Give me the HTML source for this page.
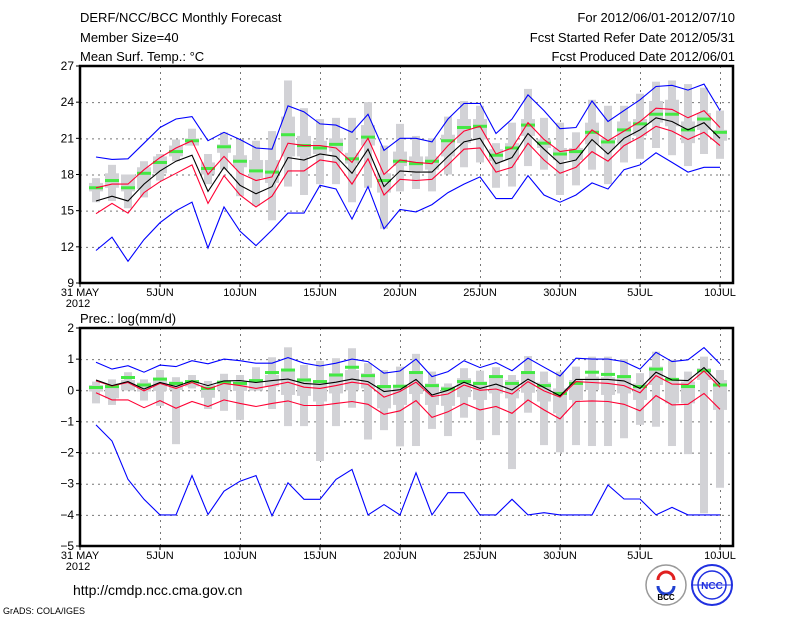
<!DOCTYPE html>
<html><head><meta charset="utf-8"><style>
html,body{margin:0;padding:0;background:#fff;}
svg{display:block;font-family:"Liberation Sans",sans-serif;}
</style></head><body>
<svg id="chart" width="800" height="618" viewBox="0 0 800 618">
<g font-size="13" fill="#000">
<text x="80" y="22">DERF/NCC/BCC Monthly Forecast</text>
<text x="80" y="42">Member Size=40</text>
<text x="80" y="61">Mean Surf. Temp.: °C</text>
<text x="735" y="22" text-anchor="end">For 2012/06/01-2012/07/10</text>
<text x="735" y="42" text-anchor="end">Fcst Started Refer Date 2012/05/31</text>
<text x="735" y="61" text-anchor="end">Fcst Produced Date 2012/06/01</text>
<text x="80" y="323">Prec.: log(mm/d)</text>
</g>
<text x="73" y="595" font-size="14">http://cmdp.ncc.cma.gov.cn</text>
<text x="3" y="614" font-size="9">GrADS: COLA/IGES</text>
<g>
<circle cx="666" cy="585" r="20" fill="#fff" stroke="#999" stroke-width="1.5"/>
<path d="M658 580 a8 8 0 1 1 16 0" fill="none" stroke="#e02020" stroke-width="3"/>
<path d="M674 586 a8 8 0 1 1 -16 0" fill="none" stroke="#2040d0" stroke-width="3"/>
<text x="666" y="600" font-size="8" text-anchor="middle" font-weight="bold">BCC</text>
</g>
<g>
<circle cx="712" cy="585" r="20" fill="#fff" stroke="#2030e0" stroke-width="2"/>
<circle cx="712" cy="585" r="14" fill="none" stroke="#2030e0" stroke-width="1.5"/>
<line x1="692" y1="585" x2="732" y2="585" stroke="#2030e0"/>
<text x="712" y="589" font-size="10" text-anchor="middle" fill="#2030e0" font-weight="bold">NCC</text>
</g>
</svg>
<script>
const days = [1,2,3,4,5,6,7,8,9,10,11,12,13,14,15,16,17,18,19,20,21,22,23,24,25,26,27,28,29,30,31,32,33,34,35,36,37,38,39,40];
const xTickDays = [0,5,10,15,20,25,30,35,40];
const xTickLabels = ["31 MAY","5JUN","10JUN","15JUN","20JUN","25JUN","30JUN","5JUL","10JUL"];
const tTicks = [9,12,15,18,21,24,27];
const pTicks = [-5,-4,-3,-2,-1,0,1,2];

const tMax = [19.45,19.25,19.3,20.6,21.9,22.6,22.8,20.8,21.5,20.9,20.2,20.1,23.7,23.2,22.2,22.1,21.5,23,20,21,21,20.7,22.6,23.9,23.9,21.4,22.6,24.6,23.3,21.8,21.9,24.1,22.4,23.3,24.2,25.3,25.4,25,25.5,23.3];
const tUp = [16.9,17.2,17.2,18.4,19.4,20.2,20.8,18,19.5,18.1,17.5,17.8,20.6,20.4,20.4,20.2,19,21,18,19.2,19,18.9,20.4,21.6,22,19.7,20.2,22.3,20.9,19.9,20.1,21.7,20.8,21.6,22.4,23.5,23.4,22.7,23.3,21.9];
const tMean = [15.8,16.2,15.8,17.2,18.3,19.1,19.6,16.6,18.6,17.1,16.4,17,19.4,19.2,19.7,19.5,18.1,20.1,17,18.3,18.2,18.2,19.5,20.7,21,18.9,19.4,21.4,20.1,18.9,19.2,20.9,19.7,21,21.7,22.7,22.4,21.7,22.3,21];
const tLo = [14.75,15.6,14.8,16.5,17.4,18.1,18.8,15.6,17.9,16.3,15.3,16.2,18.3,18.3,19.2,19,17.2,19.3,16.3,17.6,17.5,17.6,18.8,20.1,20.2,18.2,18.6,20.6,19.2,18.1,18.6,19.9,19.1,20.4,21.1,22,21.6,20.9,21.5,20.4];
const tMin = [11.7,12.8,10.8,12.6,14,15,15.7,11.9,15.3,13.3,12.1,13.4,14.8,14.8,17.1,16.8,14.3,17,13.5,15.1,14.9,15.5,16.5,17.2,17.8,16,16,17.9,16.3,15.7,16.3,17.3,16.8,18.4,18.8,19.8,19,18.2,18.6,18.6];
const tGreen = [16.9,17.5,16.9,18.1,19,19.9,20.8,18.5,20.3,19.1,18.3,18.2,21.3,20.4,20.2,20.5,19.3,21.1,17.5,19.1,18.9,19.1,20.8,21.9,22,19.6,20.2,22.1,20.6,19.7,19.9,21.5,20.7,21.7,22.2,23,23,21.7,22.6,21.5];
const tBarHi = [17.7,18.8,18,19.1,19.7,20.9,21.8,19.7,21.5,20.9,20.8,21.6,25.8,23.5,22.6,22.7,22.7,24,20.4,22.2,21.2,21,22.8,24.1,23.7,20.6,22.3,25.1,22.7,22.3,21.5,24.2,23.7,23.7,24.7,25.7,25.8,25.5,25.2,23.3];
const tBarLo = [15.7,15.8,15.2,16.1,17.5,19.1,20.4,17.2,18.4,16.2,15.4,14.2,17,16.3,17.2,17.2,15.7,16.9,13.5,16.6,16.8,16.6,18,18.6,19,16.9,17,18.7,18.4,16.3,17.1,18.4,17.2,19,19.3,20.2,19.6,18.7,19.7,19.3];
const tBoxHi = [17.3,18.1,18,18.6,19.5,20.4,21,19,20.5,19.6,19.2,19.2,22.8,21.2,20.8,21,19.8,22.1,18.1,19.9,19.5,19.5,21.3,22.6,22.6,20.1,20.6,22.6,20.9,20.2,20.2,22.3,21,22.4,22.6,24.1,24.2,22.4,23.1,21.7];
const tBoxLo = [16.6,16.9,16.6,16.8,18.1,19.5,20.4,18,19.8,18.6,17.7,17.3,19.5,19.5,19.7,19.9,18.9,20.4,16.5,18.7,18.3,18.4,19.5,20.6,20.9,19.1,19.2,21.2,20.2,19.2,19.2,20.5,20.1,20.6,21.2,22.3,22,20.6,21.7,20.8];

const pMax = [0.9,0.68,0.79,0.58,0.81,0.76,0.95,0.85,1.0,0.95,0.87,0.87,1.05,0.87,0.78,0.87,1.0,0.92,0.55,0.62,1.0,0.44,0.6,0.95,0.73,0.89,0.63,1.03,0.74,0.46,1.03,1.0,1.0,0.92,0.68,1.22,0.92,0.98,1.37,0.85];
const pUp = [0.3,0.14,0.25,-0.02,0.22,0.06,0.25,0.04,0.22,0.15,0.06,0.15,0.26,0.1,0.06,0.15,0.26,0.19,-0.22,-0.04,0.26,-0.2,-0.12,0.17,0,0.04,-0.12,0.28,-0.02,-0.22,0.28,0.25,0.22,0.15,-0.08,0.47,0.2,0.19,0.62,0.1];
const pMean = [0.33,0.15,0.28,0.04,0.25,0.12,0.3,0.15,0.3,0.31,0.25,0.31,0.36,0.22,0.19,0.26,0.36,0.28,-0.04,0.02,0.35,-0.15,0,0.26,0.06,0.2,0.01,0.36,0.09,-0.18,0.35,0.35,0.35,0.3,0.06,0.58,0.33,0.31,0.73,0.2];
const pLo = [-0.08,-0.31,-0.31,-0.56,-0.33,-0.58,-0.36,-0.52,-0.31,-0.42,-0.52,-0.42,-0.34,-0.49,-0.49,-0.42,-0.36,-0.45,-0.77,-0.66,-0.33,-0.87,-0.69,-0.42,-0.63,-0.52,-0.74,-0.31,-0.63,-0.92,-0.36,-0.34,-0.36,-0.45,-0.66,-0.17,-0.47,-0.45,-0.1,-0.61];
const pMin = [-1.11,-1.63,-2.86,-3.5,-4,-4,-2.74,-3.99,-3.24,-2.92,-2.74,-4.03,-2.97,-3.5,-3.5,-2.86,-2.54,-4,-3.67,-4,-2.65,-4,-3.29,-3.29,-4,-4,-3.5,-4,-3.93,-4,-4,-4,-3.04,-3.49,-3.49,-4,-3.76,-4,-4,-4];
const pGreen = [0.09,0.12,0.41,0.17,0.36,0.22,0.28,0.06,0.26,0.22,0.31,0.57,0.65,0.33,0.28,0.49,0.74,0.47,0.12,0.13,0.57,0.15,0.04,0.28,0.22,0.44,0.22,0.57,0.15,-0.1,0.22,0.58,0.51,0.44,0.12,0.68,0.35,0.12,0.63,0.17];
const pBarHi = [0.28,0.35,0.58,0.35,0.65,0.42,0.49,0.3,0.53,0.49,0.74,1.06,1.38,0.81,0.94,1.03,1.35,0.87,0.65,0.76,1.17,0.6,0.22,0.71,0.63,0.74,0.49,1.1,0.6,0.6,0.76,1.08,1.08,1.0,0.55,1.24,0.98,0.6,1.08,0.65];
const pBarLo = [-0.42,-0.47,0,-0.33,-0.5,-1.73,0.06,-0.6,-0.66,-0.95,0,-0.6,-1.15,-1.15,-2.27,-1.15,-0.56,-1.58,-1.28,-1.8,-1.79,-1.24,-1.47,-0.88,-1.6,-1.44,-2.53,-0.72,-1.76,-1.99,-1.76,-1.79,-1.79,-1.54,-1.11,-1.17,-1.79,-2.05,-3.95,-3.13];
const pBoxHi = [0.17,0.22,0.33,0.25,0.33,0.28,0.33,0.17,0.3,0.28,0.28,0.49,0.6,0.39,0.33,0.55,0.65,0.55,0.17,0.12,0.53,0.22,0.12,0.39,0.28,0.39,0.33,0.55,0.25,0.06,0.33,0.44,0.42,0.39,0.22,0.76,0.39,0.28,0.71,0.33];
const pBoxLo = [-0.04,-0.26,0,-0.04,-0.02,0.01,0.12,-0.24,0.01,-0.02,-0.01,0.12,-0.15,-0.18,-0.36,-0.1,0,0.06,-0.58,-0.47,-0.12,-0.47,-0.5,-0.22,-0.31,-0.1,-0.26,-0.08,-0.36,-0.74,-0.31,0.01,-0.15,-0.1,-0.31,0.17,-0.42,-0.42,0.33,-0.63];

const NS = "http://www.w3.org/2000/svg";
const svg = document.getElementById("chart");
const X0 = 80, X1 = 733, PX = 16;
function xScale(d){ return X0 + PX*d; }
function mk(tag, attrs, parent){
  const e = document.createElementNS(NS, tag);
  for (const k in attrs) e.setAttribute(k, attrs[k]);
  parent.appendChild(e); return e;
}

function drawPanel(cfg){
  const g = mk("g", {}, svg);
  
  
  const yScale = v => cfg.yTop + (cfg.vMax - v) * (cfg.yBot - cfg.yTop) / (cfg.vMax - cfg.vMin);
  const grid = mk("g", {stroke:"#777", "stroke-width":1, "stroke-dasharray":"2,4"}, g);
  
  
  cfg.ticks.forEach(t => { if (t>cfg.vMin && t<cfg.vMax) mk("line",{x1:X0,x2:X1,y1:yScale(t)+0.5,y2:yScale(t)+0.5},grid); });
  xTickDays.forEach(d => { if (d>0) mk("line",{x1:xScale(d)+0.5,x2:xScale(d)+0.5,y1:cfg.yTop,y2:cfg.yBot},grid); });
  const bars = mk("g", {fill:"#d2d2d6"}, g);
  
  
  days.forEach((d,i) => {
    const x = xScale(d);
    const b1 = mk("rect",{x:x-4,y:yScale(cfg.barHi[i]),width:8,height:Math.max(1,yScale(cfg.barLo[i])-yScale(cfg.barHi[i]))},bars);
    
    
    const b2 = mk("rect",{x:x-7,y:yScale(cfg.boxHi[i]),width:14,height:Math.max(1,yScale(cfg.boxLo[i])-yScale(cfg.boxHi[i]))},bars);
    
    
  });
  const gm = mk("g", {fill:"#44e844"}, g);
  
  
  days.forEach((d,i) => {
    const r = mk("rect",{x:xScale(d)-7,y:yScale(cfg.green[i])-1.5,width:14,height:3},gm);
    
    
  });
  const series = [[cfg.max,"#0000ff","max-line"],[cfg.up,"#ff0033","upper-line"],[cfg.mean,"#000","mean-line"],[cfg.lo,"#ff0033","lower-line"],[cfg.min,"#0000ff","min-line"]];
  series.forEach(([arr,col,nm]) => {
    const pts = days.map((d,i)=> xScale(d)+","+yScale(arr[i]).toFixed(1)).join(" ");
    const pl = mk("polyline",{points:pts,fill:"none",stroke:col,"stroke-width":1.1},g);
    
    
  });
  const fr = mk("rect",{x:X0,y:cfg.yTop,width:X1-X0,height:cfg.yBot-cfg.yTop,fill:"none",stroke:"#000","stroke-width":2.5},g);
  
  
  const ya = mk("g",{"font-size":12,"text-anchor":"end"},g);
  
  
  cfg.ticks.forEach(t => {
    const y = yScale(t);
    mk("line",{x1:X0-4,x2:X0,y1:y,y2:y,stroke:"#000"},ya);
    const tx = mk("text",{x:X0-6,y:y+4},ya);
    tx.textContent = String(t).replace("-","\u2212");
    
    
  });
  const xa = mk("g",{"font-size":11,"text-anchor":"middle"},g);
  
  
  xTickDays.forEach((d,i) => {
    const x = xScale(d);
    mk("line",{x1:x,x2:x,y1:cfg.yBot,y2:cfg.yBot+4,stroke:"#000"},xa);
    const tx = mk("text",{x:x,y:cfg.yBot+13},xa);
    tx.textContent = xTickLabels[i];
    
    
  });
  const yr = mk("text",{x:X0-2,y:cfg.yBot+24},xa);
  yr.textContent = "2012";
  
  
}

drawPanel({name:"temperature-panel",yTop:66,yBot:283,vMin:9,vMax:27,ticks:tTicks,
  max:tMax,up:tUp,mean:tMean,lo:tLo,min:tMin,green:tGreen,barHi:tBarHi,barLo:tBarLo,boxHi:tBoxHi,boxLo:tBoxLo});
drawPanel({name:"precipitation-panel",yTop:328,yBot:546,vMin:-5,vMax:2,ticks:pTicks,
  max:pMax,up:pUp,mean:pMean,lo:pLo,min:pMin,green:pGreen,barHi:pBarHi,barLo:pBarLo,boxHi:pBoxHi,boxLo:pBoxLo});
</script>
</body></html>
